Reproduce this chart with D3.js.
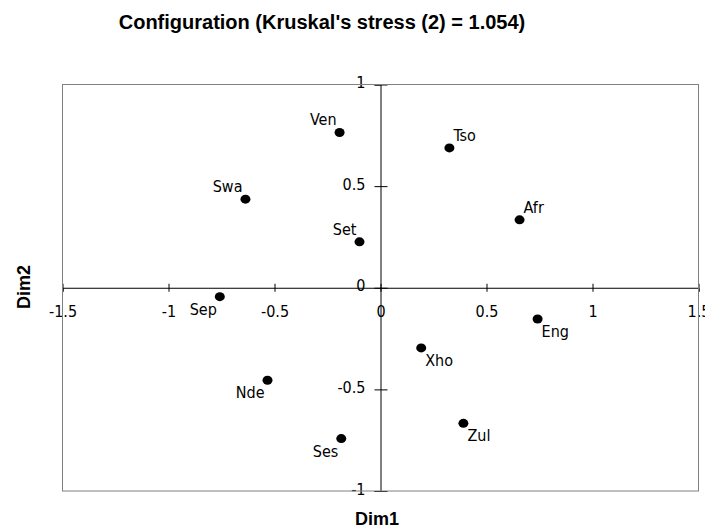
<!DOCTYPE html>
<html>
<head>
<meta charset="utf-8">
<script src="https://cdn.jsdelivr.net/npm/d3@7"></script>
<style>
  body { margin: 0; background: #fff; }
  svg { display: block; }
</style>
</head>
<body>
<div class="chart"></div>
<script>
// MDS configuration, one point per language
const languages = ['Ven', 'Swa', 'Set', 'Tso', 'Afr', 'Sep', 'Nde', 'Ses', 'Eng', 'Xho', 'Zul'];
const dim1 = [-0.193, -0.637, -0.099, 0.325, 0.656, -0.758, -0.533, -0.185, 0.741, 0.192, 0.391];
const dim2 = [0.764, 0.436, 0.226, 0.688, 0.334, -0.044, -0.455, -0.742, -0.154, -0.296, -0.667];
const xTicks = [-1.5, -1, -0.5, 0, 0.5, 1, 1.5];
const yTicks = [-1, -0.5, 0, 0.5, 1];

const width = 705;
const height = 530;
const labelFont = "'DejaVu Sans Condensed', 'DejaVu Sans'";

const points = languages.map((name, i) => ({ name: name, x: dim1[i], y: dim2[i] }));

const svg = d3.select('.chart')
  .append('svg')
  .attr('width', width)
  .attr('height', height);

const x = d3.scaleLinear().domain([-1.5, 1.5]).range([62.5, 698.5]);
const y = d3.scaleLinear().domain([-1, 1]).range([491, 84.5]);

// axes cross at the origin
const xAxis = svg.append('g')
  .attr('transform', `translate(0,${y(0)})`)
  .call(d3.axisBottom(x).tickValues(xTicks).tickSize(4).tickPadding(14).tickFormat(d => d));
xAxis.selectAll('.tick line').attr('y1', -4).attr('y2', 4);
xAxis.selectAll('.tick text').attr('dy', '0.71em');

const yAxis = svg.append('g')
  .attr('transform', `translate(${x(0)},0)`)
  .call(d3.axisLeft(y).tickValues(yTicks).tickSize(6).tickPadding(9).tickFormat(d => d));
yAxis.selectAll('.tick line').attr('x1', -6).attr('x2', 7);
yAxis.selectAll('.tick text').attr('dy', '0.2em');

svg.selectAll('.tick text')
  .attr('font-family', labelFont)
  .attr('font-stretch', 'condensed')
  .attr('font-size', 16)
  .attr('fill', '#000');
svg.selectAll('.domain, .tick line').attr('stroke', '#000');

// plot frame on top of labels
svg.append('rect')
  .attr('x', x(-1.5))
  .attr('y', y(1))
  .attr('width', x(1.5) - x(-1.5))
  .attr('height', y(-1) - y(1))
  .attr('fill', 'none')
  .attr('stroke', '#808080');

svg.selectAll('ellipse')
  .data(points)
  .enter()
  .append('ellipse')
  .attr('cx', d => x(d.x))
  .attr('cy', d => y(d.y))
  .attr('rx', 5)
  .attr('ry', 4.5)
  .attr('fill', '#000');

svg.selectAll('text.label')
  .data(points)
  .enter()
  .append('text')
  .attr('class', 'label')
  .attr('x', d => x(d.x) + (d.x < 0 ? -3 : 4))
  .attr('y', d => y(d.y) + (d.y > 0 ? -7 : 18))
  .attr('text-anchor', d => d.x < 0 ? 'end' : 'start')
  .attr('font-family', labelFont)
  .attr('font-stretch', 'condensed')
  .attr('font-size', 16)
  .text(d => d.name);

svg.append('text')
  .attr('x', 322)
  .attr('y', 29)
  .attr('text-anchor', 'middle')
  .attr('font-family', 'Liberation Sans')
  .attr('font-weight', 'bold')
  .attr('font-size', 20)
  .text("Configuration (Kruskal's stress (2) = 1.054)");

svg.append('text')
  .attr('x', 377)
  .attr('y', 525)
  .attr('text-anchor', 'middle')
  .attr('font-family', 'Liberation Sans')
  .attr('font-weight', 'bold')
  .attr('font-size', 18)
  .text('Dim1');

svg.append('text')
  .attr('transform', 'translate(30,287) rotate(-90)')
  .attr('text-anchor', 'middle')
  .attr('font-family', 'Liberation Sans')
  .attr('font-weight', 'bold')
  .attr('font-size', 18)
  .text('Dim2');
</script>
</body>
</html>
